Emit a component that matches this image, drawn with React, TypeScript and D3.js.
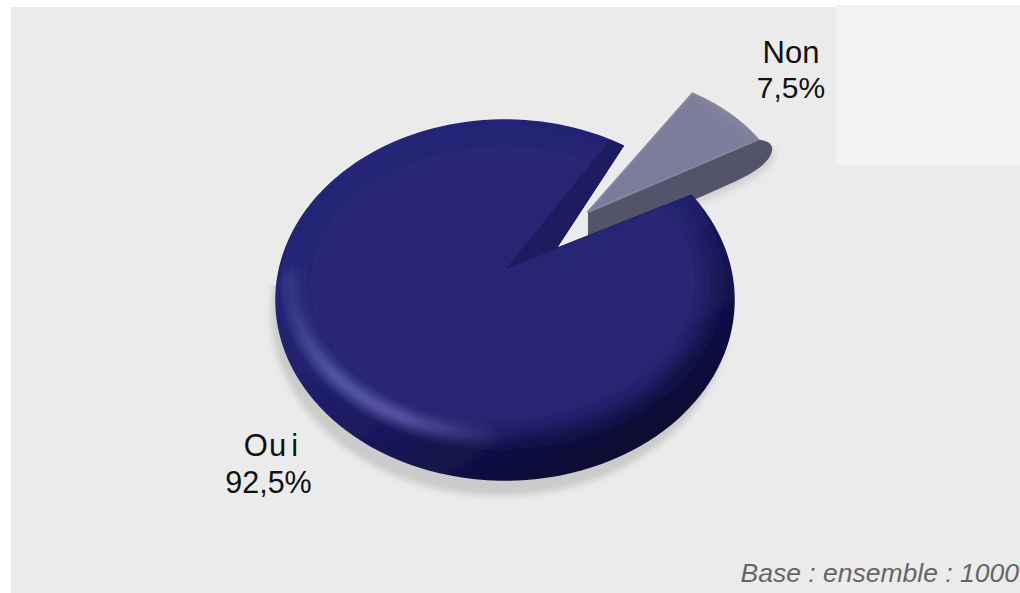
import React from "react";
import * as d3 from "d3";

const categories = ["Oui", "Non"];
const shares = [92.5, 7.5];
const baseNote = "Base : ensemble : 1000";

const width = 1020;
const height = 593;

// tilted disc: outline ellipse + where the slices meet
const disc = { cx: 505, cy: 300, rx: 229, ry: 180 };
const apex = { x: 507, y: 268 };
const topRy = 148;
const startAngle = (58.6 * Math.PI) / 180;

// exploded slice
const explode = { x: 81, y: -56, scaleX: 0.87, scaleY: 0.94 };

const pie = d3
  .pie<number>()
  .sort(null)
  .startAngle(startAngle)
  .endAngle(startAngle + Math.PI * 2);
const slices = pie(shares);

// where a pie angle hits the outline of the disc
function rim(a: number): [number, number] {
  const dx = disc.rx * Math.sin(a);
  const dy = -topRy * Math.cos(a);
  const ox = (apex.x - disc.cx) / disc.rx;
  const oy = (apex.y - disc.cy) / disc.ry;
  const ux = dx / disc.rx;
  const uy = dy / disc.ry;
  const A = ux * ux + uy * uy;
  const B = 2 * (ox * ux + oy * uy);
  const C = ox * ox + oy * oy - 1;
  const t = (-B + Math.sqrt(B * B - 4 * A * C)) / (2 * A);
  return [apex.x + t * dx, apex.y + t * dy];
}

function sweep(a0: number, a1: number, n = 160) {
  return d3.range(n + 1).map(i => rim(a0 + ((a1 - a0) * i) / n));
}

const line = d3.line();
const oui = slices[0];
const non = slices[1];

// main body, cut along the inner wall
const cutPoint: [number, number] = (() => {
  const [x, y] = rim(oui.startAngle);
  return [apex.x + (x - apex.x) * 0.265, apex.y + (y - apex.y) * 0.265];
})();
const bodyPath =
  line([...sweep(oui.startAngle, oui.endAngle), cutPoint]) + "Z";
const wallPath =
  line([
    [apex.x, apex.y],
    rim(oui.endAngle - 0.07),
    rim(oui.endAngle),
    cutPoint
  ]) + "Z";

// exploded slice top + wall
const nonApex = { x: apex.x + explode.x, y: apex.y + explode.y };
function nonRim(a: number): [number, number] {
  return [
    nonApex.x + disc.rx * explode.scaleX * Math.sin(a),
    nonApex.y - topRy * explode.scaleY * Math.cos(a)
  ];
}
const nonArc = d3
  .range(41)
  .map(i => nonRim(non.startAngle + ((non.endAngle - non.startAngle) * i) / 40));
const nonTopPath = line([[nonApex.x, nonApex.y], ...nonArc]) + "Z";
const nonEnd = nonArc[nonArc.length - 1];
const nonWall = d3.path();
nonWall.moveTo(nonApex.x, nonApex.y);
nonWall.lineTo(nonEnd[0], nonEnd[1]);
nonWall.bezierCurveTo(
  nonEnd[0] + 9,
  nonEnd[1] + 1,
  nonEnd[0] + 15,
  nonEnd[1] + 4,
  nonEnd[0] + 14,
  nonEnd[1] + 11
);
nonWall.bezierCurveTo(
  nonEnd[0] + 12,
  nonEnd[1] + 23,
  nonEnd[0] - 4,
  nonEnd[1] + 33,
  nonEnd[0] - 25,
  nonEnd[1] + 43
);
nonWall.lineTo(nonEnd[0] - 61, nonEnd[1] + 59);
nonWall.lineTo(nonApex.x, nonApex.y + 24);
nonWall.closePath();

// soft top surface inside the bevel
const inner = { cx: 500, cy: 280, rx: 210, ry: 155 };
const bandArc = d3.range(61).map((i): [number, number] => {
  const a = ((182 + (92 * i) / 60) * Math.PI) / 180;
  return [inner.cx + inner.rx * Math.sin(a), inner.cy - inner.ry * Math.cos(a)];
});

const fmt = (v: number) => String(v).replace(".", ",") + "%";

export default function App() {
  return (
    <svg
      width={width}
      height={height}
      style={{ position: "absolute", left: 0, top: 0 }}
      fontFamily="'Liberation Sans', Arial, sans-serif"
    >
      <defs>
        <filter id="blur2" x="-20%" y="-20%" width="140%" height="140%">
          <feGaussianBlur stdDeviation="3" />
        </filter>
        <filter id="blurBand" x="-20%" y="-20%" width="140%" height="140%">
          <feGaussianBlur stdDeviation="6" />
        </filter>
        <filter id="blurTop" x="-20%" y="-20%" width="140%" height="140%">
          <feGaussianBlur stdDeviation="12" />
        </filter>
        <filter id="soft" x="-5%" y="-5%" width="110%" height="110%">
          <feGaussianBlur stdDeviation="0.6" />
        </filter>
        <clipPath id="bodyClip">
          <path d={bodyPath} />
        </clipPath>
        <clipPath id="shadowClip">
          <rect x={0} y={285} width={width} height={height - 285} />
        </clipPath>
        <linearGradient id="rimFill" x1="0.1" y1="0.05" x2="0.8" y2="0.95">
          <stop offset="0" stopColor="#26267e" />
          <stop offset="0.5" stopColor="#1f1f6c" />
          <stop offset="1" stopColor="#08082c" />
        </linearGradient>
        <linearGradient
          id="bandFade"
          gradientUnits="userSpaceOnUse"
          x1="290"
          y1="300"
          x2="510"
          y2="440"
        >
          <stop offset="0" stopColor="#6262b4" stopOpacity="0.35" />
          <stop offset="0.3" stopColor="#6262b4" stopOpacity="1" />
          <stop offset="0.6" stopColor="#6262b4" stopOpacity="1" />
          <stop offset="1" stopColor="#6262b4" stopOpacity="0" />
        </linearGradient>
        <linearGradient id="nonTop" x1="0" y1="1" x2="1" y2="0">
          <stop offset="0" stopColor="#7a7a9a" />
          <stop offset="0.75" stopColor="#7c7c9b" />
          <stop offset="1" stopColor="#9494ac" />
        </linearGradient>
      </defs>

      <rect x={11} y={7} width={width - 11} height={height - 7} fill="#ebebeb" />
      <rect x={836} y={5} width={width - 836} height={160} fill="#f2f2f2" />

      {/* ground shadows */}
      <g clipPath="url(#shadowClip)">
        <ellipse
          cx={disc.cx - 5}
          cy={disc.cy + 13}
          rx={disc.rx}
          ry={disc.ry + 3}
          fill="#cbcbcb"
          filter="url(#blur2)"
        />
      </g>
      <path
        d={nonWall.toString()}
        transform="translate(3,5)"
        fill="#d2d2d2"
        filter="url(#blur2)"
      />

      {/* exploded slice */}
      <g filter="url(#soft)">
        <path d={nonWall.toString()} fill="#53536a" />
        <path
          d={nonTopPath}
          fill="url(#nonTop)"
          stroke="#85859f"
          strokeWidth={2}
          strokeLinejoin="round"
        />
      </g>

      {/* main slice */}
      <g filter="url(#soft)">
        <path
          d={bodyPath}
          fill="url(#rimFill)"
          stroke="url(#rimFill)"
          strokeWidth={1.5}
          strokeLinejoin="round"
        />
      </g>
      <g clipPath="url(#bodyClip)">
        <ellipse
          cx={inner.cx + 3}
          cy={inner.cy + 3}
          rx={inner.rx - 3}
          ry={inner.ry - 3}
          fill="#272775"
          filter="url(#blurTop)"
        />
        <path
          d={line(bandArc) ?? ""}
          fill="none"
          stroke="url(#bandFade)"
          strokeWidth={13}
          filter="url(#blurBand)"
        />
      </g>
      <path
        d={wallPath}
        fill="#1e1b60"
        stroke="#1e1b60"
        strokeWidth={1}
        strokeLinejoin="round"
        filter="url(#soft)"
      />

      {/* labels */}
      <g fill="#111" textAnchor="middle">
        <text x={791} y={63} fontSize={31}>
          {categories[1]}
        </text>
        <text x={791} y={98} fontSize={30}>
          {fmt(shares[1])}
        </text>
        <text x={271} y={456} fontSize={31} dx="0 1 5">
          {categories[0]}
        </text>
        <text x={268.5} y={493} fontSize={30.5}>
          {fmt(shares[0])}
        </text>
      </g>
      <text
        x={1019}
        y={582}
        fontSize={26.5}
        fontStyle="italic"
        fill="#666"
        textAnchor="end"
      >
        {baseNote}
      </text>
    </svg>
  );
}
